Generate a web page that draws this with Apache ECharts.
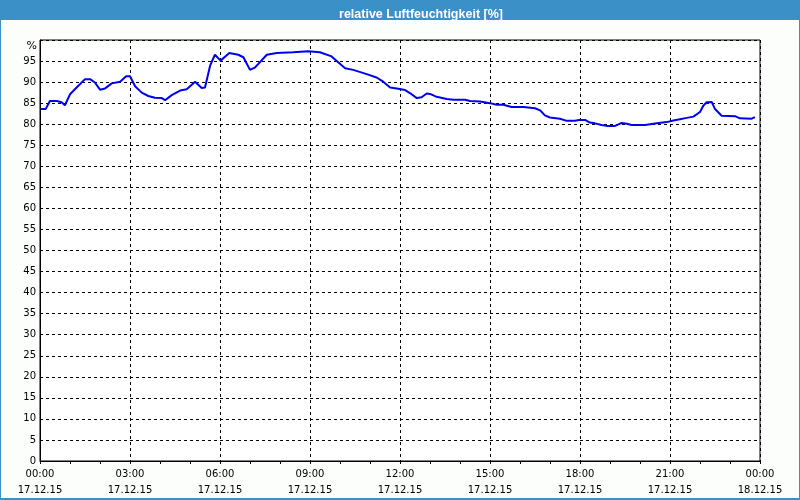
<!DOCTYPE html>
<html>
<head>
<meta charset="utf-8">
<script src="https://cdn.jsdelivr.net/npm/echarts@6/dist/echarts.min.js"></script>
<style>
html,body{margin:0;padding:0;background:#fcfefc;}
#c{width:800px;height:500px;}
</style>
</head>
<body>
<div id="c"></div>
<script>
// hours since 17.12.15 00:00
var hours = [0.02,0.19,0.33,0.56,0.72,0.83,1.0,1.22,1.5,1.67,1.83,2.0,2.17,2.39,2.67,2.87,3.0,3.17,3.39,3.61,3.83,4.06,4.17,4.39,4.67,4.89,5.17,5.39,5.5,5.67,5.83,6.02,6.31,6.61,6.78,7.0,7.17,7.56,7.89,8.44,8.94,9.33,9.72,10.17,10.44,10.89,11.22,11.44,11.67,11.89,12.17,12.33,12.56,12.72,12.89,13.0,13.22,13.56,13.78,14.17,14.33,14.67,15.0,15.22,15.44,15.72,16.11,16.5,16.67,16.83,17.0,17.33,17.56,17.83,17.97,18.17,18.33,18.5,18.72,18.89,19.17,19.39,19.56,19.72,20.17,20.56,20.89,21.11,21.33,21.56,21.78,22.0,22.11,22.22,22.39,22.5,22.72,23.17,23.33,23.72,23.83];
var humidity = [83.6,83.6,85.5,85.5,85.2,84.5,87.1,88.7,90.7,90.7,89.9,88.2,88.5,89.7,90.1,91.4,91.4,89.0,87.5,86.7,86.3,86.2,85.7,86.9,88.0,88.3,90.1,88.6,88.7,93.9,96.5,95.1,96.9,96.5,95.9,92.9,93.5,96.5,96.9,97.1,97.3,97.1,96.1,93.3,92.9,91.9,91.1,90.1,88.7,88.5,88.1,87.4,86.2,86.4,87.3,87.2,86.5,86.0,85.8,85.8,85.5,85.4,85.0,84.6,84.6,84.1,84.1,83.8,83.3,82.1,81.6,81.3,80.8,80.8,81.0,81.0,80.4,80.2,79.8,79.6,79.6,80.3,80.1,79.8,79.8,80.2,80.5,80.9,81.2,81.5,81.8,82.9,84.4,85.2,85.3,83.6,82.0,81.9,81.4,81.3,81.7];
var timeLabels = ['00:00','03:00','06:00','09:00','12:00','15:00','18:00','21:00','00:00'];
var dateLabels = ['17.12.15','17.12.15','17.12.15','17.12.15','17.12.15','17.12.15','17.12.15','17.12.15','18.12.15'];
var titleText = 'relative Luftfeuchtigkeit [%]';
var unitText = '%';

var data = hours.map(function(h,i){return [h, humidity[i]];});
var chart = echarts.init(document.getElementById('c'), null, {renderer:'canvas'});
var font = 'DejaVu Sans';
chart.setOption({
  animation:false,
  backgroundColor:'#fcfefc',
  title:{
    text:titleText, left:416, top:3, textAlign:'center',
    textStyle:{color:'#ffffff', fontFamily:'Liberation Sans', fontWeight:'bold', fontSize:12.5, lineHeight:14}
  },
  graphic:[
    {type:'rect', z:-10, silent:true, shape:{x:0,y:0,width:800,height:20}, style:{fill:'#3c90c8'}},
    {type:'rect', z:-10, silent:true, shape:{x:0.5,y:0.5,width:799,height:498}, style:{fill:null, stroke:'#3c90c8', lineWidth:1}},
    {type:'rect', z:-10, silent:true, shape:{x:0,y:498,width:800,height:2}, style:{fill:'#3c90c8'}},
    {type:'text', silent:true, x:37, y:46, style:{text:unitText, align:'right', verticalAlign:'middle', fill:'#000', font:'11px "DejaVu Sans"'}}
  ],
  grid:{left:40, top:40, right:40, bottom:39, show:true, borderColor:'#000', borderWidth:1, backgroundColor:'#ffffff'},
  xAxis:{
    type:'value', min:0, max:24, interval:3,
    axisLine:{show:true, lineStyle:{color:'#000', width:1}},
    axisTick:{show:true, length:3, lineStyle:{color:'#000'}},
    minorTick:{show:true, splitNumber:3, length:3, lineStyle:{color:'#000'}},
    splitLine:{show:true, lineStyle:{color:'#000', type:[3,3], width:1}},
    axisLabel:{
      margin:5, color:'#000', fontFamily:font, fontSize:10, lineHeight:16,
      formatter:function(v){var i=Math.round(v/3); return timeLabels[i]+'\n'+dateLabels[i];}
    }
  },
  yAxis:{
    type:'value', min:0, max:100, interval:5,
    axisLine:{show:true, lineStyle:{color:'#000', width:1}},
    axisTick:{show:false},
    splitLine:{show:true, lineStyle:{color:'#000', type:[3,3], width:1}},
    axisLabel:{
      margin:4, color:'#000', fontFamily:font, fontSize:10,
      formatter:function(v){return v>=100?'':String(v);}
    }
  },
  series:[{
    type:'line', data:data, showSymbol:false, symbol:'none',
    lineStyle:{color:'#0000f0', width:2}, z:5
  }]
});
</script>
</body>
</html>
